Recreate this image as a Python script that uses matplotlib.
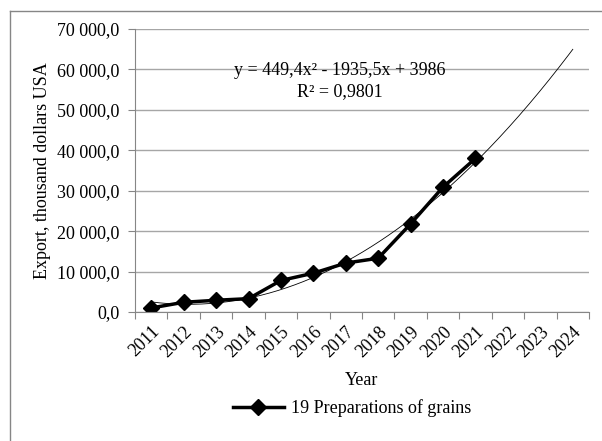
import numpy as np
import matplotlib.pyplot as plt
from matplotlib.ticker import FuncFormatter, FixedLocator

plt.rcParams['font.family'] = ['Liberation Serif', 'DejaVu Serif']

years = ['2011', '2012', '2013', '2014', '2015', '2016', '2017',
         '2018', '2019', '2020', '2021', '2022', '2023', '2024']
export = [1000, 2400, 2900, 3300, 7800, 9600, 12100, 13300, 21800, 30900, 38000]
# trend coefficients as printed on the chart
trend_a, trend_b, trend_c = 449.4, -1935.5, 3986

fs = 13

fig = plt.figure(figsize=(6.02, 4.41), dpi=100)
ax = fig.add_axes([135 / 602, 1 - 312 / 441, 454 / 602, (312 - 29) / 441])

xs = np.arange(1, len(export) + 1)
xt = np.linspace(1, len(years), 300)
ax.plot(xt, trend_a * xt**2 + trend_b * xt + trend_c, color='black', lw=0.6)
ax.plot(xs, export, color='black', lw=2.5, marker='D', markersize=8.5,
        label='19 Preparations of grains')

ax.set_xlim(0.5, len(years) + 0.5)
ax.set_ylim(0, 70000)
ax.set_yticks(np.arange(0, 70001, 10000))
ax.yaxis.set_major_formatter(FuncFormatter(
    lambda v, p: f'{v:,.1f}'.replace(',', ' ').replace('.', ',')))
ax.grid(axis='y', color='#a6a6a6', lw=1)
ax.set_axisbelow(True)

ax.xaxis.set_major_locator(FixedLocator(np.arange(0.5, len(years) + 1)))
ax.xaxis.set_minor_locator(FixedLocator(np.arange(1, len(years) + 1)))
ax.set_xticklabels([], minor=False)
ax.set_xticklabels(years, minor=True, rotation=45, ha='right',
                   rotation_mode='anchor', fontsize=fs)
ax.tick_params(axis='x', which='major', length=5, color='#868686')
ax.tick_params(axis='x', which='minor', length=0, pad=8)
ax.tick_params(axis='y', length=5, color='#868686', labelsize=fs, pad=6)

for s in ['top', 'right']:
    ax.spines[s].set_visible(False)
for s in ['left', 'bottom']:
    ax.spines[s].set_color('#868686')

ax.text(0.4515, 0.855, 'y = 449,4x² - 1935,5x + 3986', transform=ax.transAxes,
        ha='center', va='center', fontsize=fs)
ax.text(0.4515, 0.778, 'R² = 0,9801', transform=ax.transAxes,
        ha='center', va='center', fontsize=fs)

ax.set_xlabel('Year', fontsize=fs)
ax.xaxis.set_label_coords(0.5, -0.212)
ax.set_ylabel('Export, thousand dollars USA', fontsize=fs)
ax.yaxis.set_label_coords(-0.184, 0.5)

fig.legend(loc='center', bbox_to_anchor=(352 / 602, 1 - 408 / 441),
           frameon=False, fontsize=fs, handlelength=2.8, handletextpad=0.4)

# chart area border (top and left visible)
fig.add_artist(plt.Line2D([10 / 602, 1], [1 - 11 / 441, 1 - 11 / 441],
                          color='#868686', lw=1, transform=fig.transFigure))
fig.add_artist(plt.Line2D([10 / 602, 10 / 602], [0, 1 - 11 / 441],
                          color='#868686', lw=1, transform=fig.transFigure))

plt.savefig('out.png', dpi=100)
